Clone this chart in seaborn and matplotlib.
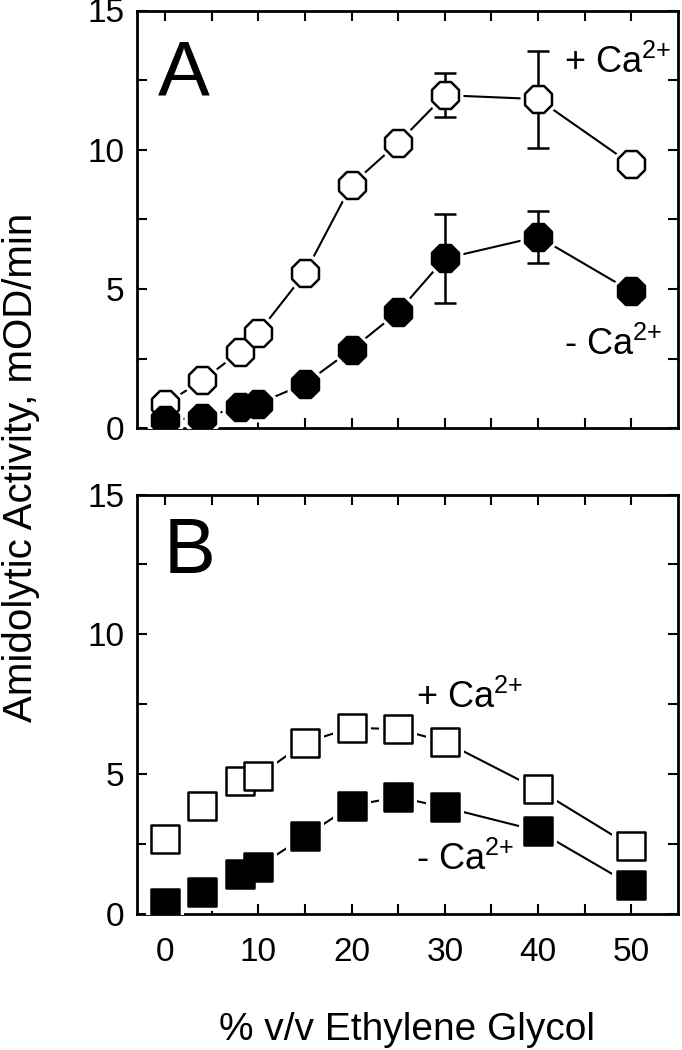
import numpy as np
import pandas as pd
import seaborn as sns
import matplotlib.pyplot as plt

# % v/v ethylene glycol
eg = [0, 4, 8, 10, 15, 20, 25, 30, 40, 50]

# panel A (circles), amidolytic activity in mOD/min
a_plus = [0.87, 1.73, 2.74, 3.43, 5.57, 8.75, 10.25, 11.96, 11.82, 9.48]
a_minus = [0.30, 0.39, 0.77, 0.89, 1.60, 2.83, 4.18, 6.10, 6.88, 4.92]
err_x = [30, 40]
a_plus_err = [0.78, 1.74]
a_minus_err = [1.60, 0.94]

# panel B (squares)
b_plus = [2.67, 3.84, 4.74, 4.92, 6.12, 6.65, 6.60, 6.15, 4.44, 2.40]
b_minus = [0.36, 0.78, 1.41, 1.68, 2.76, 3.86, 4.17, 3.80, 2.96, 1.02]

sns.set_style('ticks')
plt.rcParams['font.family'] = ['Liberation Sans', 'DejaVu Sans']
plt.rcParams['mathtext.fontset'] = 'custom'
plt.rcParams['mathtext.rm'] = 'Liberation Sans'
plt.rcParams['mathtext.it'] = 'Liberation Sans'
plt.rcParams['text.color'] = 'black'
plt.rcParams['xtick.color'] = 'black'
plt.rcParams['ytick.color'] = 'black'

CA_PLUS = '+ Ca$^{2{+}}$'
CA_MINUS = '- Ca$^{2{+}}$'


def series(ax, y, marker, ms, filled, err=None):
    sns.lineplot(x=eg, y=y, ax=ax, color='black', linewidth=1.5, zorder=2,
                 errorbar=None, sort=False)
    # white halo so the connecting lines stop short of the symbols
    sns.scatterplot(x=eg, y=y, ax=ax, marker=marker, s=(ms + 7) ** 2,
                    color='white', linewidth=0, zorder=3)
    if err is not None:
        ys = [y[eg.index(v)] for v in err_x]
        ax.errorbar(err_x, ys, yerr=err, fmt='none', ecolor='black',
                    elinewidth=1.8, capsize=8, capthick=1.8, zorder=4)
    sns.scatterplot(x=eg, y=y, ax=ax, marker=marker, s=ms ** 2,
                    color='black' if filled else 'white',
                    edgecolor='black', linewidth=1.8, zorder=5)


def style(ax):
    ax.set_xlim(-3, 55)
    ax.set_ylim(0, 15)
    ax.set_xticks(np.arange(0, 51, 10))
    ax.set_xticks(np.arange(0, 51, 5), minor=True)
    ax.set_yticks([0, 5, 10, 15])
    ax.set_yticks(np.arange(0, 15.1, 2.5), minor=True)
    ax.tick_params(which='both', direction='in', top=True, right=True,
                   width=1.5, length=7, labelsize=24)
    ax.tick_params(axis='x', pad=17)
    ax.tick_params(axis='y', pad=9)
    for s in ax.spines.values():
        s.set_linewidth(2)
        s.set_color('black')
    ax.set_xlabel('')
    ax.set_ylabel('')


fig = plt.figure(figsize=(6.82, 10.5), dpi=100)
ax1 = fig.add_axes([0.201, 0.592, 0.793, 0.398])
ax2 = fig.add_axes([0.201, 0.130, 0.793, 0.399])

series(ax1, a_plus, '8', 21, False, a_plus_err)
series(ax1, a_minus, '8', 21, True, a_minus_err)
series(ax2, b_plus, 's', 20.5, False)
series(ax2, b_minus, 's', 20.5, True)

style(ax1)
style(ax2)
ax1.set_xticklabels([])

ax1.text(-0.8, 11.94, 'A', fontsize=56, ha='left', va='baseline')
ax2.text(-0.2, 12.2, 'B', fontsize=56, ha='left', va='baseline')
ax1.text(42.8, 12.74, CA_PLUS, fontsize=26, ha='left', va='baseline')
ax1.text(42.8, 2.65, CA_MINUS, fontsize=26, ha='left', va='baseline')
ax2.text(26.9, 7.37, CA_PLUS, fontsize=26, ha='left', va='baseline')
ax2.text(26.9, 1.56, CA_MINUS, fontsize=26, ha='left', va='baseline')

fig.text(0.031, 0.555, 'Amidolytic Activity, mOD/min', fontsize=29,
         rotation=90, ha='center', va='center')
fig.text(0.597, 0.0095, '% v/v Ethylene Glycol', fontsize=28,
         ha='center', va='baseline')

fig.savefig('out.png', dpi=100)
